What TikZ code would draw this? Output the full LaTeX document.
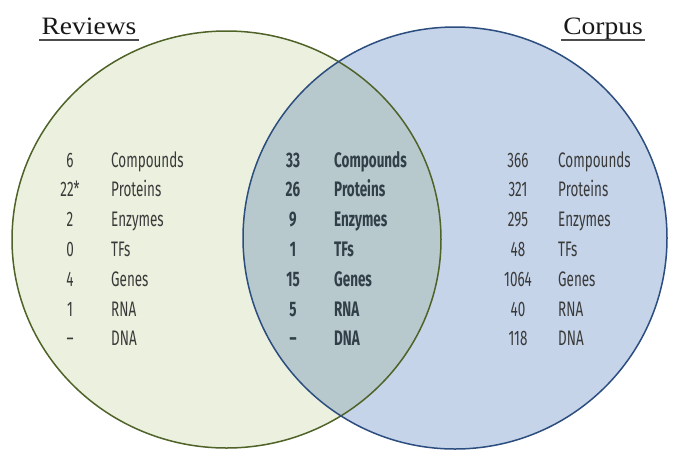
\documentclass[tikz,border=0pt]{standalone}
\usepackage{fontspec}
\usepackage{xcolor}
\newfontfamily\bodyfont[FakeStretch=0.64]{Fira Sans}
\newfontfamily\titlefont[FakeStretch=1.1]{Liberation Serif}
\definecolor{reviewfill}{HTML}{EBF1DE}
\definecolor{reviewline}{HTML}{4F6228}
\definecolor{corpusfill}{HTML}{C5D4E9}
\definecolor{corpusline}{HTML}{2C4D7F}
\definecolor{bothfill}{HTML}{B7C9CC}
\definecolor{textgrey}{HTML}{3A3A3A}
\definecolor{boldgrey}{HTML}{313F48}

\begin{document}
\begin{tikzpicture}[x=1pt,y=-1pt,
        numnode/.style={anchor=base, inner sep=0pt, text=textgrey, font=\bodyfont\fontsize{21}{21}\selectfont},
        labnode/.style={anchor=base west, inner sep=0pt, text=textgrey, font=\bodyfont\fontsize{21}{21}\selectfont},
        bothnum/.style={numnode, text=boldgrey, font=\bodyfont\bfseries\fontsize{21}{21}\selectfont},
        bothlab/.style={labnode, text=boldgrey, font=\bodyfont\bfseries\fontsize{21}{21}\selectfont},
        titlenode/.style={anchor=base, inner sep=0pt, text=black!90, font=\titlefont\fontsize{25}{25}\selectfont},
        uline/.style={draw=black!70, line width=1.2pt}
        ]
            \useasboundingbox (0,0) rectangle (685,467);

            % the two sets
            \fill[reviewfill] (226.5,239.5) ellipse [x radius=214.5, y radius=208.5];
            \fill[corpusfill] (455,238) ellipse [x radius=212, y radius=211];
            \begin{scope}
                \clip (226.5,239.5) ellipse [x radius=214.5, y radius=208.5];
                \fill[bothfill] (455,238) ellipse [x radius=212, y radius=211];
            \end{scope}
            \draw[reviewline, line width=1.5pt] (226.5,239.5) ellipse [x radius=214.5, y radius=208.5];
            \draw[corpusline, line width=1.5pt] (455,238) ellipse [x radius=212, y radius=211];

            % titles
            \node[titlenode] (reviews) at (89,34) {Reviews};
            \node[titlenode] (corpus) at (603,34) {Corpus};
            \draw[uline] ([yshift=-6pt,xshift=-2pt]reviews.base west) -- ([yshift=-6pt,xshift=2pt]reviews.base east);
            \draw[uline] ([yshift=-6pt,xshift=-2pt]corpus.base west) -- ([yshift=-6pt,xshift=2pt]corpus.base east);

            % reviews only
            \node[numnode] (rn1) at (70,167) {6};
            \node[numnode] (rn2) at (70,196.8) {22*};
            \node[numnode] (rn3) at (70,226.6) {2};
            \node[numnode] (rn4) at (70,256.4) {0};
            \node[numnode] (rn5) at (70,286.2) {4};
            \node[numnode] (rn6) at (70,316) {1};
            \node[numnode] (rn7) at (70,345.8) {–};
            \node[labnode] (rl1) at (111,167) {Compounds};
            \node[labnode] (rl2) at (111,196.8) {Proteins};
            \node[labnode] (rl3) at (111,226.6) {Enzymes};
            \node[labnode] (rl4) at (111,256.4) {TFs};
            \node[labnode] (rl5) at (111,286.2) {Genes};
            \node[labnode] (rl6) at (111,316) {RNA};
            \node[labnode] (rl7) at (111,345.8) {DNA};

            % in both
            \node[bothnum] (bn1) at (293,167) {33};
            \node[bothnum] (bn2) at (293,196.8) {26};
            \node[bothnum] (bn3) at (293,226.6) {9};
            \node[bothnum] (bn4) at (293,256.4) {1};
            \node[bothnum] (bn5) at (293,286.2) {15};
            \node[bothnum] (bn6) at (293,316) {5};
            \node[bothnum] (bn7) at (293,345.8) {–};
            \node[bothlab] (bl1) at (334,167) {Compounds};
            \node[bothlab] (bl2) at (334,196.8) {Proteins};
            \node[bothlab] (bl3) at (334,226.6) {Enzymes};
            \node[bothlab] (bl4) at (334,256.4) {TFs};
            \node[bothlab] (bl5) at (334,286.2) {Genes};
            \node[bothlab] (bl6) at (334,316) {RNA};
            \node[bothlab] (bl7) at (334,345.8) {DNA};

            % corpus only
            \node[numnode] (cn1) at (518,167) {366};
            \node[numnode] (cn2) at (518,196.8) {321};
            \node[numnode] (cn3) at (518,226.6) {295};
            \node[numnode] (cn4) at (518,256.4) {48};
            \node[numnode] (cn5) at (518,286.2) {1064};
            \node[numnode] (cn6) at (518,316) {40};
            \node[numnode] (cn7) at (518,345.8) {118};
            \node[labnode] (cl1) at (558,167) {Compounds};
            \node[labnode] (cl2) at (558,196.8) {Proteins};
            \node[labnode] (cl3) at (558,226.6) {Enzymes};
            \node[labnode] (cl4) at (558,256.4) {TFs};
            \node[labnode] (cl5) at (558,286.2) {Genes};
            \node[labnode] (cl6) at (558,316) {RNA};
            \node[labnode] (cl7) at (558,345.8) {DNA};

        \end{tikzpicture}
\end{document}
